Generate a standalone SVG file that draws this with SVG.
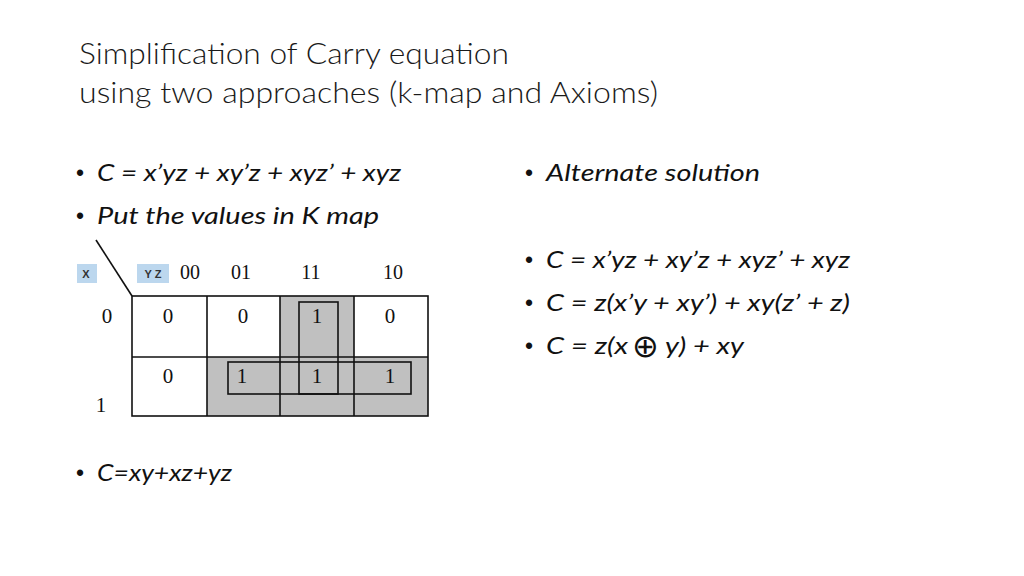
<svg xmlns="http://www.w3.org/2000/svg" width="1024" height="576" viewBox="0 0 1024 576">
<style>
.title{font-family:Lato,"Open Sans","Liberation Sans",sans-serif;font-weight:300;font-size:29px;fill:#1a1a1a}
.b{font-family:Lato,"Open Sans","Liberation Sans",sans-serif;font-size:24px;fill:#111}
.bul{font-family:"Liberation Sans",Arial,sans-serif;font-size:23px;fill:#111}
.it{font-style:italic}
.d{font-family:"Liberation Serif","DejaVu Serif",serif;font-size:21px;fill:#111;text-anchor:middle}
.h{font-size:20px}
.lbl{font-family:"Liberation Sans",Arial,sans-serif;font-size:11px;font-weight:bold;fill:#333;text-anchor:middle}
.g{fill:#c0c0c0}
.ln{stroke:#111;stroke-width:1.6;fill:none}
.lb{fill:#bcd7ee}
</style>
<rect width="1024" height="576" fill="#fff"/>
<g id="title">
<text class="title" x="79" y="64" textLength="430" lengthAdjust="spacingAndGlyphs">Simplification of Carry equation</text>
<text class="title" x="79" y="103" textLength="579" lengthAdjust="spacingAndGlyphs">using two approaches (k-map and Axioms)</text>
</g>
<g id="left-bullets">
<text class="bul" x="76" y="181">•</text>
<text class="b it" x="97" y="181" textLength="304" lengthAdjust="spacingAndGlyphs">C = x’yz + xy’z + xyz’ + xyz</text>
<text class="bul" x="76" y="224">•</text>
<text class="b it" x="97" y="224" textLength="282" lengthAdjust="spacingAndGlyphs">Put the values in K map</text>
<text class="bul" x="76" y="481">•</text>
<text class="b it" x="97" y="481" textLength="135" lengthAdjust="spacingAndGlyphs">C=xy+xz+yz</text>
</g>
<g id="right-bullets">
<text class="bul" x="525" y="181">•</text>
<text class="b it" x="546" y="181" textLength="214" lengthAdjust="spacingAndGlyphs">Alternate solution</text>
<text class="bul" x="525" y="268">•</text>
<text class="b it" x="546" y="268" textLength="304" lengthAdjust="spacingAndGlyphs">C = x’yz + xy’z + xyz’ + xyz</text>
<text class="bul" x="525" y="311">•</text>
<text class="b it" x="546" y="311" textLength="304" lengthAdjust="spacingAndGlyphs">C = z(x’y + xy’) + xy(z’ + z)</text>
<text class="bul" x="525" y="354">•</text>
<text class="b it" x="546" y="354" textLength="82" lengthAdjust="spacingAndGlyphs">C = z(x</text>
<text class="b" x="632" y="357" style="font-size:32px;font-family:'DejaVu Sans',sans-serif">⊕</text>
<text class="b it" x="665" y="354" textLength="79" lengthAdjust="spacingAndGlyphs">y) + xy</text>
</g>
<g id="kmap">
<rect class="g" x="280" y="296" width="74" height="120"/>
<rect class="g" x="207" y="357" width="221" height="59"/>
<line class="ln" x1="96" y1="240" x2="132" y2="296"/>
<rect class="lb" x="77" y="264" width="20" height="19"/>
<rect class="lb" x="137" y="264" width="32" height="19"/>
<text class="lbl" x="86" y="278">X</text>
<text class="lbl" x="153" y="278">Y Z</text>
<text class="d h" x="190" y="279">00</text>
<text class="d h" x="241" y="279">01</text>
<text class="d h" x="311" y="279">11</text>
<text class="d h" x="393" y="279">10</text>
<text class="d" x="107" y="323">0</text>
<text class="d" x="101" y="412">1</text>
<rect class="ln" x="132" y="296" width="296" height="120"/>
<line class="ln" x1="207" y1="296" x2="207" y2="416"/>
<line class="ln" x1="280" y1="296" x2="280" y2="416"/>
<line class="ln" x1="354" y1="296" x2="354" y2="416"/>
<line class="ln" x1="132" y1="357" x2="428" y2="357"/>
<rect class="ln" x="299" y="302" width="39" height="92"/>
<rect class="ln" x="228" y="362" width="183" height="32"/>
<text class="d" x="168" y="323">0</text>
<text class="d" x="243" y="323">0</text>
<text class="d" x="317" y="323">1</text>
<text class="d" x="390" y="323">0</text>
<text class="d" x="168" y="383">0</text>
<text class="d" x="242" y="383">1</text>
<text class="d" x="317" y="383">1</text>
<text class="d" x="390" y="383">1</text>
</g>
</svg>
